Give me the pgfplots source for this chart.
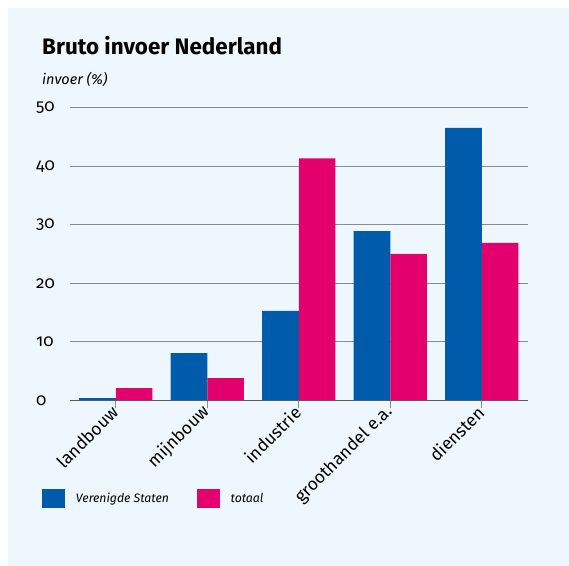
\documentclass[border=0pt]{standalone}
\usepackage{pgfplots}
\pgfplotsset{compat=1.18}
\usepackage{fontspec}
\setmainfont{Fira Sans}[Numbers=OldStyle]
\definecolor{bg}{HTML}{EEF7FD}
\definecolor{usblue}{HTML}{005CAB}
\definecolor{mag}{HTML}{E3006D}
\definecolor{gridgray}{HTML}{8A8C8E}
\definecolor{axgray}{HTML}{5A5C5E}

\begin{document}
\begin{tikzpicture}[x=1bp,y=1bp]
\fill[white] (0,0) rectangle (569,566);
\fill[bg] (8,0) rectangle (569,558);
\node[anchor=base west, font=\fontsize{22.5}{24}\selectfont\bfseries, inner sep=0] at (42,511) {Bruto invoer Nederland};
\node[anchor=base west, font=\fontsize{14.5}{16}\selectfont\itshape, inner sep=0] at (42,481) {invoer (\%)};
\begin{axis}[
  at={(70bp,165.5bp)}, anchor=south west,
  scale only axis, width=457.5bp, height=293bp,
  xmin=-0.5, xmax=4.5, ymin=0, ymax=50,
  ybar=0pt, bar width=36.6bp,
  axis line style={draw=none},
  ymajorgrids, grid style={gridgray, line width=0.8bp},
  ytick={0,10,20,30,40,50},
  ytick style={draw=none},
  xtick={0,1,2,3,4},
  xticklabels={landbouw,mijnbouw,industrie,groothandel e.a.,diensten},
  xtick pos=bottom, tick align=outside, major tick length=8bp,
  xtick style={gridgray, line width=0.8bp},
  /pgf/number format/assume math mode=true,
  yticklabel style={anchor=west, inner sep=0pt, xshift=-26bp, font=\fontsize{17}{18}\selectfont},
  xticklabel style={rotate=45, anchor=east, inner sep=1bp, font=\fontsize{17.5}{19}\selectfont},
  legend columns=2,
  legend style={at={(-0.061,-0.336)}, anchor=west, draw=none, fill=none, inner sep=0pt,
    font=\fontsize{12.3}{15}\selectfont\itshape,
    nodes={inner sep=0pt},
    /tikz/every odd column/.append style={column sep=11bp},
    /tikz/every even column/.append style={column sep=28bp}},
  legend image code/.code={\fill[#1] (0bp,-9.5bp) rectangle (22.7bp,9.5bp);},
  clip=false,
]
\addplot[fill=usblue, draw=none] coordinates {(0,0.4) (1,8.1) (2,15.3) (3,28.9) (4,46.5)};
\addplot[fill=mag, draw=none] coordinates {(0,2.1) (1,3.8) (2,41.3) (3,25.0) (4,26.9)};
\legend{Verenigde Staten, totaal}
\draw[axgray, line width=1.6bp] (axis cs:-0.5,0) -- (axis cs:4.5,0);
\end{axis}
\end{tikzpicture}
\end{document}
